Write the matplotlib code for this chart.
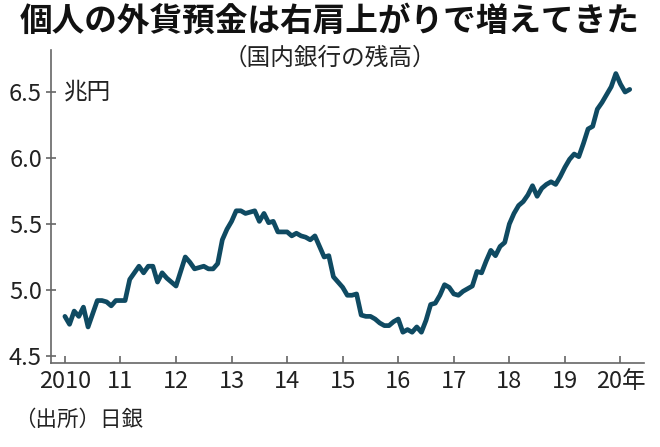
import numpy as np
import matplotlib.pyplot as plt

plt.rcParams['font.family'] = ['Noto Sans CJK JP', 'DejaVu Sans']

# 個人の外貨預金残高（兆円）, 月次 2010年1月〜2020年3月
deposits = [
    4.80, 4.74, 4.84, 4.80, 4.87, 4.72, 4.82, 4.92, 4.92, 4.91, 4.88, 4.92,  # 2010
    4.92, 4.92, 5.08, 5.13, 5.18, 5.13, 5.18, 5.18, 5.06, 5.13, 5.09, 5.06,  # 2011
    5.03, 5.14, 5.25, 5.21, 5.16, 5.17, 5.18, 5.16, 5.16, 5.20, 5.38, 5.46,  # 2012
    5.52, 5.60, 5.60, 5.58, 5.59, 5.60, 5.52, 5.58, 5.51, 5.52, 5.44, 5.44,  # 2013
    5.44, 5.41, 5.43, 5.41, 5.40, 5.38, 5.41, 5.33, 5.25, 5.26, 5.10, 5.06,  # 2014
    5.02, 4.96, 4.96, 4.97, 4.81, 4.80, 4.80, 4.78, 4.75, 4.73, 4.73, 4.76,  # 2015
    4.78, 4.68, 4.70, 4.68, 4.72, 4.68, 4.77, 4.89, 4.90, 4.96, 5.04, 5.02,  # 2016
    4.97, 4.96, 4.99, 5.01, 5.03, 5.14, 5.13, 5.22, 5.30, 5.26, 5.33, 5.36,  # 2017
    5.50, 5.58, 5.64, 5.67, 5.72, 5.79, 5.71, 5.77, 5.80, 5.82, 5.80, 5.86,  # 2018
    5.93, 5.99, 6.03, 6.01, 6.11, 6.22, 6.24, 6.37, 6.42, 6.48, 6.54, 6.64,  # 2019
    6.56, 6.50, 6.52,                                                        # 2020
]
year_ticks = list(range(2010, 2021))
year_labels = ['2010', '11', '12', '13', '14', '15', '16', '17', '18', '19', '20年']
y_ticks = [4.5, 5.0, 5.5, 6.0, 6.5]

months = np.arange(len(deposits))
x = 2010 + months / 12.0

txt = '#222222'
axis_col = '#666666'

fig = plt.figure(figsize=(6.6, 4.47), dpi=100)
ax = fig.add_axes([0.0773, 0.188, 0.899, 0.70])

ax.plot(x, deposits, color='#0f4a62', lw=3.4, solid_joinstyle='round', solid_capstyle='round')

ax.set_xlim(2009.75, 2020.43)
ax.set_ylim(4.447, 6.818)

ax.set_xticks(year_ticks)
ax.set_xticklabels(year_labels, fontsize=17, color=txt)
ax.set_yticks(y_ticks)
ax.set_yticklabels([f'{v:.1f}' for v in y_ticks], fontsize=17, color=txt)

ax.tick_params(axis='x', direction='in', length=5, width=1.2, color=axis_col, pad=5)
ax.tick_params(axis='y', direction='inout', length=7, width=1.2, color=axis_col, pad=3)

for s in ['top', 'right']:
    ax.spines[s].set_visible(False)
for s in ['left', 'bottom']:
    ax.spines[s].set_color(axis_col)
    ax.spines[s].set_linewidth(1.2)

ax.text(0.022, 0.866, '兆円', transform=ax.transAxes, fontsize=17, color=txt,
        ha='left', va='center')

fig.text(0.5, 1 - 21 / 447, '個人の外貨預金は右肩上がりで増えてきた', ha='center', va='center',
         fontsize=23.5, fontweight='bold', color='#111111')
fig.text(0.5, 1 - 58 / 447, '（国内銀行の残高）', ha='center', va='center',
         fontsize=17, color=txt)
fig.text(14 / 660, 1 - 420 / 447, '（出所）日銀', ha='left', va='center',
         fontsize=15.5, color=txt)

fig.savefig('out.png', dpi=100)
